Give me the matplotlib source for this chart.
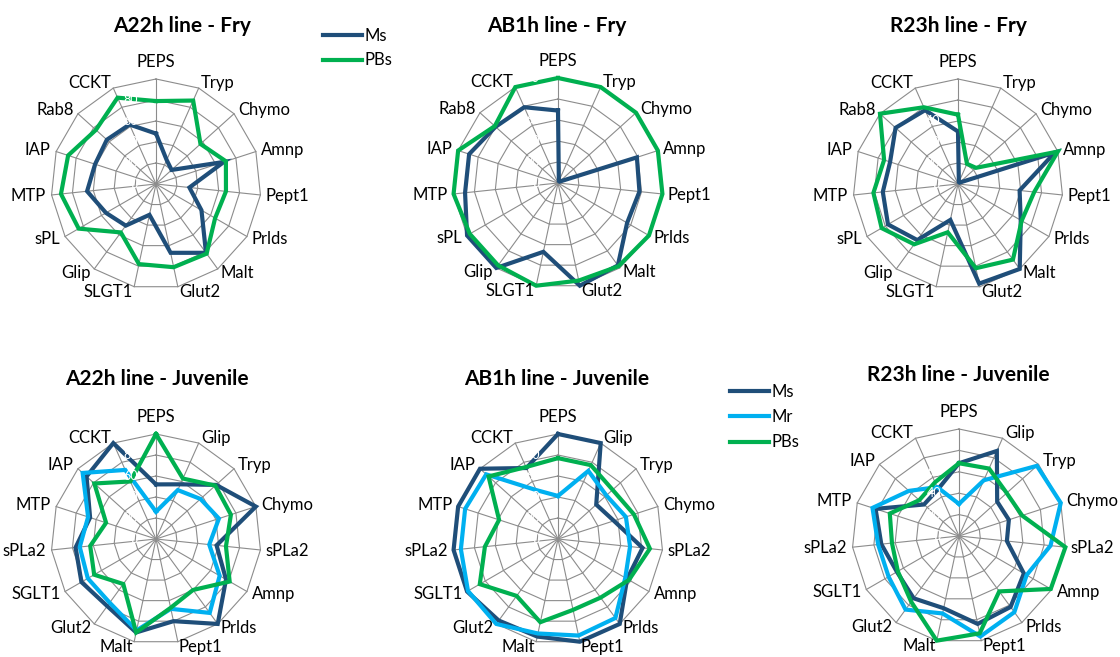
import matplotlib.pyplot as plt
import numpy as np
from matplotlib.lines import Line2D

plt.rcParams['font.family'] = ['Lato', 'DejaVu Sans']

W, H = 1120, 657

# axis order, clockwise from the top
cats_fry = ['PEPS', 'Tryp', 'Chymo', 'Amnp', 'Pept1', 'Prlds', 'Malt', 'Glut2',
            'SLGT1', 'Glip', 'sPL', 'MTP', 'IAP', 'Rab8', 'CCKT']
cats_juv = ['PEPS', 'Glip', 'Tryp', 'Chymo', 'sPLa2', 'Amnp', 'Prlds', 'Pept1',
            'Malt', 'Glut2', 'SGLT1', 'sPLa2', 'MTP', 'IAP', 'CCKT']

# Fry
a22_fry_ms = [48, 25, 20, 68, 32, 50, 81, 67, 30, 49, 55, 66, 61, 63, 62]
a22_fry_pbs = [79, 87, 57, 70, 67, 65, 82, 81, 78, 57, 85, 91, 88, 77, 90]
ab1_fry_ms = [69, 2, 2, 79, 78, 76, 97, 100, 67, 100, 100, 89, 89, 80, 79]
ab1_fry_pbs = [100, 100, 100, 100, 100, 100, 98, 95, 100, 97, 97, 100, 100, 81, 100]
r23_fry_ms = [50, 2, 2, 97, 59, 69, 100, 97, 35, 66, 77, 72, 68, 80, 77]
r23_fry_pbs = [66, 21, 23, 100, 73, 70, 89, 82, 47, 71, 84, 81, 74, 100, 80]

# Juvenile
a22_juv_ms = [52, 57, 77, 100, 58, 77, 100, 80, 91, 79, 82, 77, 66, 89, 100]
a22_juv_mr = [26, 51, 57, 63, 51, 70, 87, 68, 89, 75, 75, 73, 68, 94, 72]
a22_juv_pbs = [100, 63, 76, 75, 67, 81, 60, 67, 91, 53, 68, 63, 50, 79, 60]
ab1_juv_ms = [100, 100, 49, 56, 81, 76, 100, 100, 95, 96, 100, 100, 100, 100, 74]
ab1_juv_mr = [41, 71, 62, 68, 69, 74, 93, 94, 92, 100, 99, 93, 93, 92, 51]
ab1_juv_pbs = [77, 77, 70, 76, 88, 78, 69, 69, 81, 67, 86, 70, 59, 89, 75]
r23_juv_ms = [68, 87, 48, 49, 45, 70, 82, 84, 69, 72, 67, 73, 82, 44, 48]
r23_juv_mr = [30, 57, 98, 100, 86, 73, 88, 96, 74, 85, 76, 76, 85, 63, 50]
r23_juv_pbs = [68, 69, 60, 62, 100, 99, 64, 93, 100, 76, 66, 63, 68, 50, 55]

ring_vals = [0, 20, 40, 60, 80, 100]
colors = {'Ms': '#1f4e79', 'Mr': '#00b0f0', 'PBs': '#00b050'}
grid_col = '#8c8c8c'

fig = plt.figure(figsize=(W / 100, H / 100), dpi=100)


def radar(cx, cy, R, cats, series, title, tx, ty):
    ax = fig.add_axes([(cx - R) / W, 1 - (cy + R) / H, 2 * R / W, 2 * R / H],
                      projection='polar')
    ax.set_theta_zero_location('N')
    ax.set_theta_direction(-1)
    ax.set_ylim(0, 100)
    ax.set_xticks([])
    ax.set_yticks([])
    ax.grid(False)
    ax.spines['polar'].set_visible(False)
    ax.patch.set_visible(False)

    n = len(cats)
    theta = np.arange(n) * 2 * np.pi / n
    tc = np.append(theta, theta[0])

    # polygon grid + spokes
    for r in ring_vals[1:]:
        ax.plot(tc, [r] * (n + 1), color=grid_col, lw=0.8, clip_on=False, zorder=1)
    for t in theta:
        ax.plot([t, t], [0, 100], color=grid_col, lw=0.8, clip_on=False, zorder=1)

    for name, vals in series:
        ax.plot(tc, list(vals) + [vals[0]], color=colors[name], lw=3,
                clip_on=False, zorder=3, solid_joinstyle='miter')

    # white value labels (as in the original, barely visible)
    for r in ring_vals:
        ax.annotate(str(r), (0, r), xytext=(-13, 0), textcoords='offset points',
                    ha='right', va='center', fontsize=9, color='white',
                    zorder=4, annotation_clip=False)

    # category labels
    for t, lab in zip(theta, cats):
        s, c = np.sin(t), np.cos(t)
        if abs(s) < 0.01:
            ax.annotate(lab, (t, 100), xytext=(0, 8.5), textcoords='offset points',
                        ha='center', va='baseline', fontsize=12, annotation_clip=False)
        else:
            ax.annotate(lab, (t, 100), xytext=(4 * s, 4 * c), textcoords='offset points',
                        ha='left' if s > 0 else 'right', va='center', fontsize=12,
                        annotation_clip=False)

    fig.text(tx / W, 1 - ty / H, title, ha='center', va='baseline',
             fontsize=15, fontweight='bold')
    return ax


radar(156, 184, 105, cats_fry, [('Ms', a22_fry_ms), ('PBs', a22_fry_pbs)],
      'A22h line - Fry', 182, 32)
radar(558, 183, 105, cats_fry, [('Ms', ab1_fry_ms), ('PBs', ab1_fry_pbs)],
      'AB1h line - Fry', 557, 32)
radar(958, 184, 105, cats_fry, [('Ms', r23_fry_ms), ('PBs', r23_fry_pbs)],
      'R23h line - Fry', 958, 32)
radar(156, 539, 105, cats_juv,
      [('Ms', a22_juv_ms), ('Mr', a22_juv_mr), ('PBs', a22_juv_pbs)],
      'A22h line - Juvenile', 157, 385)
radar(558, 539, 105, cats_juv,
      [('Ms', ab1_juv_ms), ('Mr', ab1_juv_mr), ('PBs', ab1_juv_pbs)],
      'AB1h line - Juvenile', 557, 385)
radar(959, 536, 107, cats_juv,
      [('Ms', r23_juv_ms), ('Mr', r23_juv_mr), ('PBs', r23_juv_pbs)],
      'R23h line - Juvenile', 958, 381)


def legend(names, x0, y0, spacing):
    handles = [Line2D([], [], color=colors[nm], lw=3) for nm in names]
    fig.legend(handles, names, loc='upper left', bbox_to_anchor=(x0 / W, 1 - y0 / H),
               frameon=False, fontsize=12, handlelength=2.35, handletextpad=0.15,
               labelspacing=spacing, borderpad=0, borderaxespad=0)


legend(['Ms', 'PBs'], 323, 28, 0.5)
legend(['Ms', 'Mr', 'PBs'], 730, 384, 0.55)

fig.savefig('out.png', dpi=100)
